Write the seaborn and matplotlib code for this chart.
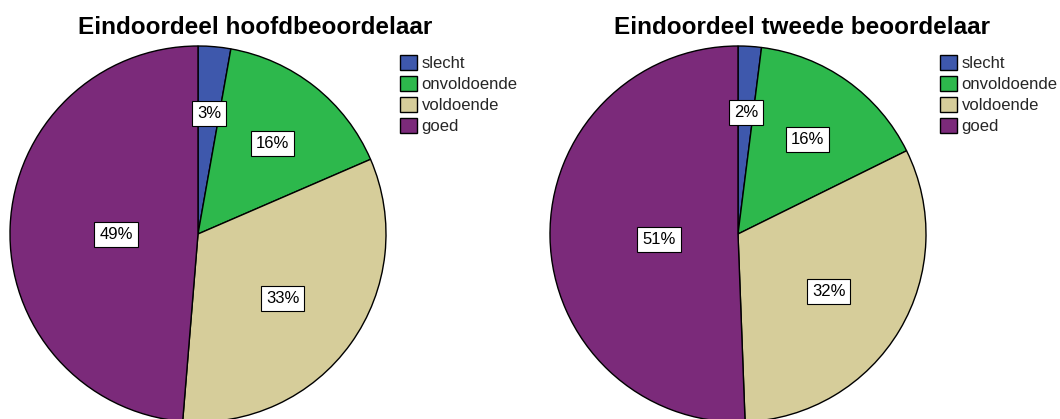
"""
Two SPSS-style pie charts: final grade by first and second assessor.
"""
import numpy as np
import matplotlib
matplotlib.use("Agg")
import matplotlib.pyplot as plt
import seaborn as sns

categories = ["slecht", "onvoldoende", "voldoende", "goed"]
hoofd_pct = [2.8, 15.7, 32.8, 48.7]
tweede_pct = [2.0, 15.7, 31.7, 50.6]
hoofd_labels = ["3%", "16%", "33%", "49%"]
tweede_labels = ["2%", "16%", "32%", "51%"]
titles = ["Eindoordeel hoofdbeoordelaar", "Eindoordeel tweede beoordelaar"]

colors = sns.color_palette(["#3E58AC", "#2DB84C", "#D6CD9A", "#7B2A7A"])

sns.set_theme(style="white")
plt.rcParams["font.family"] = ["Liberation Sans", "DejaVu Sans"]

W, H = 1060, 419
fig = plt.figure(figsize=(W / 100, H / 100), dpi=100)

R = 188
panels = [
    dict(cx=198, cy=234, vals=hoofd_pct, labs=hoofd_labels, title=titles[0],
         tx=255, lx=400),
    dict(cx=738, cy=234, vals=tweede_pct, labs=tweede_labels, title=titles[1],
         tx=802, lx=940),
]

for p in panels:
    ax = fig.add_axes([(p["cx"] - R) / W, (H - p["cy"] - R) / H, 2 * R / W, 2 * R / H])
    wedges, _ = ax.pie(
        p["vals"], colors=colors, startangle=90, counterclock=False,
        wedgeprops=dict(edgecolor="black", linewidth=1.0),
    )
    for w in wedges:
        w.set_clip_on(False)
    ax.set_xlim(-1, 1)
    ax.set_ylim(-1, 1)
    ax.set_axis_off()

    # percentage labels at the centroid of each wedge
    fracs = np.array(p["vals"]) / np.sum(p["vals"])
    start = np.concatenate([[0], np.cumsum(fracs)[:-1]])
    for f, s, lab in zip(fracs, start, p["labs"]):
        alpha = f * 2 * np.pi
        mid = (s + f / 2) * 2 * np.pi
        r = (2 / 3) * np.sin(alpha / 2) / (alpha / 2)
        ax.text(r * np.sin(mid), r * np.cos(mid) - 0.02, lab, ha="center", va="center",
                fontsize=12, color="black",
                bbox=dict(boxstyle="square,pad=0.3", fc="white", ec="black", lw=0.8))

    fig.text(p["tx"] / W, 1 - 27 / H, p["title"], ha="center", va="center",
             fontsize=17.5, fontweight="bold", color="black")

    fig.legend(wedges, categories, loc="upper left",
               bbox_to_anchor=(p["lx"] / W - 0.011, 1 - 43 / H),
               frameon=False, fontsize=12, handlelength=1.0, handleheight=1.0,
               handletextpad=0.3, labelspacing=0.3, borderpad=0.2)

fig.savefig("out.png", dpi=100)
